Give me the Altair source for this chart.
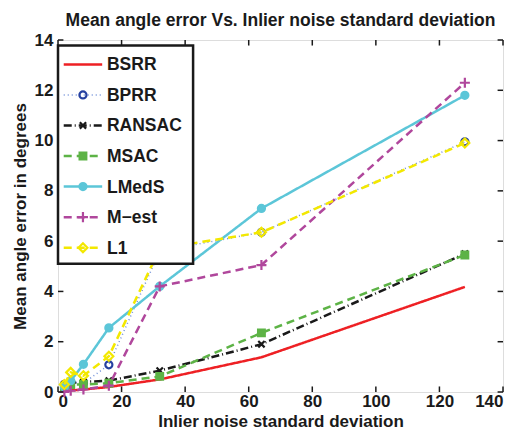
import altair as alt
import pandas as pd

# ---- data ----
noise = [2, 4, 8, 16, 32, 64, 128]
methods = ["BSRR", "BPRR", "RANSAC", "MSAC", "LMedS", "M\u2212est", "L1"]
bsrr = [0.03, 0.06, 0.1, 0.2, 0.5, 1.38, 4.18]
bprr = [0.3, 0.4, 0.35, 1.08, 5.6, 6.35, 9.95]
ransac = [0.3, 0.35, 0.4, 0.45, 0.85, 1.9, 5.5]
msac = [0.2, 0.3, 0.3, 0.35, 0.62, 2.35, 5.45]
lmeds = [0.2, 0.45, 1.1, 2.55, 4.2, 7.3, 11.8]
mest = [0.0, 0.05, 0.1, 0.25, 4.2, 5.05, 12.3]
l1 = [0.3, 0.78, 0.65, 1.42, 5.7, 6.35, 9.9]
values = [bsrr, bprr, ransac, msac, lmeds, mest, l1]

x_ticks = [0, 20, 40, 60, 80, 100, 120, 140]
y_ticks = [0, 2, 4, 6, 8, 10, 12, 14]

# ---- styles ----
line_color = ["#ee2024", "#6f8fd8", "#1a1a1a", "#5db346", "#5cc6d8", "#b0479c", "#f3e800"]
mark_color = ["#ee2024", "#2540a0", "#1a1a1a", "#5db346", "#5cc6d8", "#b0479c", "#f3e800"]
dashes = [[1, 0], [1, 3], [8, 3, 1, 3], [8, 5], [1, 0], [8, 5], [8, 5]]
widths = [2.5, 1.5, 2.5, 2.5, 2.5, 2.5, 2.5]
shapes = [None, "circle", "M-1,-1L1,1M1,-1L-1,1", "square", "circle",
          "M-1.2,0H1.2M0,-1.2V1.2", "diamond"]
fills = [None, "transparent", "transparent", "#5db346", "#5cc6d8", "transparent", "transparent"]
sizes = [0, 50, 40, 45, 50, 70, 80]

FONT = "Liberation Sans"
FS = 17
INK = "#1a1a1a"

x_scale = alt.Scale(domain=[0, 140], nice=False, zero=False)
y_scale = alt.Scale(domain=[0, 14], nice=False, zero=False)

X_AX = alt.Axis(values=x_ticks, ticks=False, domain=False, grid=False, labelPadding=1,
                labelFontSize=FS, labelFontWeight="bold", labelFont=FONT, labelColor=INK,
                title="Inlier noise standard deviation", titleFontSize=FS,
                titleFontWeight="bold", titleFont=FONT, titleColor=INK, titlePadding=4)
Y_AX = alt.Axis(values=y_ticks, ticks=False, domain=False, grid=False, labelPadding=5,
                labelFontSize=FS, labelFontWeight="bold", labelFont=FONT, labelColor=INK,
                title="Mean angle error in degrees", titleFontSize=FS,
                titleFontWeight="bold", titleFont=FONT, titleColor=INK, titlePadding=5)

layers = []

# base layer carrying the axes
axis_df = pd.DataFrame({"x": [0, 140], "y": [0, 14]})
layers.append(
    alt.Chart(axis_df).mark_point(opacity=0).encode(
        x=alt.X("x:Q", scale=x_scale, axis=X_AX),
        y=alt.Y("y:Q", scale=y_scale, axis=Y_AX),
    )
)

# series lines + markers
for i, m in enumerate(methods):
    df = pd.DataFrame({"x": noise, "y": values[i]})
    layers.append(
        alt.Chart(df).mark_line(color=line_color[i], strokeDash=dashes[i], strokeWidth=widths[i],
                                clip=True).encode(
            x=alt.X("x:Q", scale=x_scale), y=alt.Y("y:Q", scale=y_scale))
    )
    if shapes[i]:
        layers.append(
            alt.Chart(df).mark_point(shape=shapes[i], stroke=mark_color[i], fill=fills[i],
                                     filled=False, strokeWidth=2.2, size=sizes[i],
                                     opacity=1).encode(
                x=alt.X("x:Q", scale=x_scale), y=alt.Y("y:Q", scale=y_scale))
        )

# inward ticks on all four sides
xt = pd.DataFrame({"x": x_ticks})
yt = pd.DataFrame({"y": y_ticks})
tick_style = dict(color=INK, strokeWidth=1.5)
layers += [
    alt.Chart(xt).mark_rule(**tick_style).encode(
        x=alt.X("x:Q", scale=x_scale), y=alt.datum(0), y2=alt.datum(0.22)),
    alt.Chart(xt).mark_rule(**tick_style).encode(
        x=alt.X("x:Q", scale=x_scale), y=alt.datum(14), y2=alt.datum(13.78)),
    alt.Chart(yt).mark_rule(**tick_style).encode(
        y=alt.Y("y:Q", scale=y_scale), x=alt.datum(0), x2=alt.datum(1.7)),
    alt.Chart(yt).mark_rule(**tick_style).encode(
        y=alt.Y("y:Q", scale=y_scale), x=alt.datum(140), x2=alt.datum(138.3)),
]

# legend box (in data coordinates)
box = pd.DataFrame({"x": [0.0], "x2": [42.5], "y": [5.1], "y2": [13.78]})
layers.append(
    alt.Chart(box).mark_rect(fill="white", stroke=INK, strokeWidth=2.5).encode(
        x=alt.X("x:Q", scale=x_scale), x2="x2:Q",
        y=alt.Y("y:Q", scale=y_scale), y2="y2:Q")
)
row0, step = 13.03, 1.215
for i, m in enumerate(methods):
    ry = row0 - step * i
    seg = pd.DataFrame({"x": [1.8, 13.9], "y": [ry, ry]})
    layers.append(
        alt.Chart(seg).mark_line(color=line_color[i], strokeDash=dashes[i],
                                 strokeWidth=widths[i]).encode(
            x=alt.X("x:Q", scale=x_scale), y=alt.Y("y:Q", scale=y_scale))
    )
    if shapes[i]:
        pt = pd.DataFrame({"x": [7.85], "y": [ry]})
        layers.append(
            alt.Chart(pt).mark_point(shape=shapes[i], stroke=mark_color[i], fill=fills[i],
                                     filled=False, strokeWidth=2.2, size=sizes[i],
                                     opacity=1).encode(
                x=alt.X("x:Q", scale=x_scale), y=alt.Y("y:Q", scale=y_scale))
        )
    tx = pd.DataFrame({"x": [15.4], "y": [ry], "t": [m]})
    layers.append(
        alt.Chart(tx).mark_text(align="left", baseline="middle", font=FONT, fontSize=FS + 0.5,
                                fontWeight="bold", color=INK, dy=1).encode(
            x=alt.X("x:Q", scale=x_scale), y=alt.Y("y:Q", scale=y_scale), text="t:N")
    )

chart = alt.layer(*layers).properties(
    width=445, height=352,
    title=alt.TitleParams("Mean angle error Vs. Inlier noise standard deviation",
                          font=FONT, fontSize=FS + 0.5, fontWeight="bold", color=INK,
                          anchor="middle", offset=2),
    autosize=alt.AutoSizeParams(type="none"),
    padding={"left": 50, "top": 32, "right": 8, "bottom": 40},
).configure_view(stroke=INK, strokeWidth=2.5).configure(background="white")

chart.save("out.html", embed_options={"renderer": "svg", "actions": False})
